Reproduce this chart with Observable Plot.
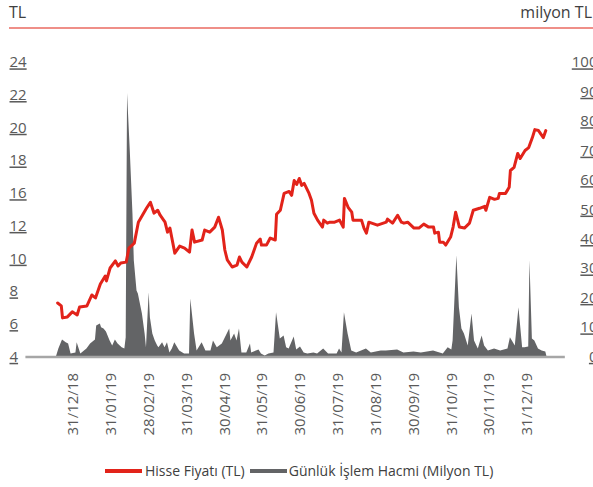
<!DOCTYPE html>
<html>
<head>
<meta charset="utf-8">
<script src="https://cdn.jsdelivr.net/npm/d3@7"></script>
<script src="https://cdn.jsdelivr.net/npm/@observablehq/plot@0.6"></script>
<style>
  html, body { margin: 0; padding: 0; background: #fff; overflow: hidden; }
  #chart { position: relative; width: 593px; height: 487px; font-family: "Open Sans", sans-serif; }
  .unit { position: absolute; top: 4px; font-size: 16px; line-height: 16px; color: #404040; white-space: nowrap; }
  .unit.left { left: 9px; }
  .unit.right { right: 1px; }
  .toprule { position: absolute; top: 27px; left: 9px; right: 0; height: 2px; background: #ef8f88; }
  .plotwrap { position: absolute; left: 0; top: 40px; width: 593px; height: 400px; }
  .plotwrap svg { position: absolute; left: 0; top: 0; }
  .axis-u g[aria-label="y-axis tick label"] text { text-decoration: underline; }
  .legend { position: absolute; left: 105px; top: 464px; display: flex; align-items: center; font-size: 14px; line-height: 14px; color: #404040; white-space: nowrap; }
  .legend .sw { display: inline-block; width: 37px; height: 4px; }
</style>
</head>
<body>
<div id="chart">
  <div class="unit left">TL</div>
  <div class="unit right">milyon TL</div>
  <div class="toprule"></div>
  <div class="plotwrap" id="plots"></div>
  <div class="legend" id="legend"></div>
</div>
<script>
// ---- Data ----
const seriesNames = ["Hisse Fiyatı (TL)", "Günlük İşlem Hacmi (Milyon TL)"];
const seriesColors = ["#e2231a", "#636466"];

const xTickDates = ["2018-12-31","2019-01-31","2019-02-28","2019-03-31","2019-04-30","2019-05-31","2019-06-30",
  "2019-07-31","2019-08-31","2019-09-30","2019-10-31","2019-11-30","2019-12-31"];
const axisStartDate = "2018-11-22";
const axisEndDate = "2020-01-31";
const leftTicks = [4, 6, 8, 10, 12, 16, 18, 20, 22, 24];
const rightTicks = [0, 10, 20, 30, 40, 50, 60, 70, 80, 90, 100];

const priceDates = ["2018-12-18","2018-12-21","2018-12-22","2018-12-26","2018-12-30","2019-01-03","2019-01-05","2019-01-11",
  "2019-01-15","2019-01-18","2019-01-22","2019-01-26","2019-01-27","2019-01-30","2019-02-03","2019-02-05","2019-02-07",
  "2019-02-11","2019-02-13","2019-02-17","2019-02-20","2019-02-23","2019-02-26","2019-03-01","2019-03-04","2019-03-07",
  "2019-03-09","2019-03-13","2019-03-15","2019-03-17","2019-03-21","2019-03-25","2019-03-29","2019-04-02","2019-04-04",
  "2019-04-06","2019-04-12","2019-04-14","2019-04-18","2019-04-22","2019-04-25","2019-04-28","2019-04-30","2019-05-02",
  "2019-05-06","2019-05-10","2019-05-12","2019-05-14","2019-05-18","2019-05-22","2019-05-26","2019-05-29","2019-05-30",
  "2019-06-03","2019-06-06","2019-06-10","2019-06-11","2019-06-14","2019-06-17","2019-06-21","2019-06-23","2019-06-25",
  "2019-06-27","2019-06-29","2019-07-01","2019-07-03","2019-07-07","2019-07-09","2019-07-11","2019-07-14","2019-07-18",
  "2019-07-19","2019-07-22","2019-07-24","2019-07-28","2019-08-01","2019-08-04","2019-08-05","2019-08-08","2019-08-11",
  "2019-08-12","2019-08-19","2019-08-21","2019-08-23","2019-08-25","2019-09-01","2019-09-08","2019-09-09","2019-09-13",
  "2019-09-16","2019-09-17","2019-09-20","2019-09-22","2019-09-25","2019-09-30","2019-10-04","2019-10-08","2019-10-12",
  "2019-10-16","2019-10-17","2019-10-20","2019-10-21","2019-10-24","2019-10-26","2019-10-30","2019-11-01","2019-11-03",
  "2019-11-06","2019-11-10","2019-11-14","2019-11-17","2019-11-22","2019-11-26","2019-11-27","2019-11-30","2019-12-04",
  "2019-12-07","2019-12-08","2019-12-13","2019-12-16","2019-12-17","2019-12-20","2019-12-23","2019-12-25","2019-12-29",
  "2020-01-01","2020-01-04","2020-01-06","2020-01-09","2020-01-13","2020-01-15"];
const priceValues = [7.30,7.12,6.39,6.45,6.76,6.57,7.06,7.12,
  7.79,7.61,8.46,8.95,8.65,9.44,9.87,9.56,9.74,
  9.80,10.66,10.96,12.48,13.33,14.18,14.91,13.58,13.94,
  13.33,12.48,11.63,11.88,10.35,10.78,10.66,10.41,11.76,
  11.02,11.15,11.76,11.63,11.94,13.09,11.76,10.54,9.93,
  9.50,9.62,10.11,9.80,9.50,10.11,10.96,11.21,10.84,
  10.84,11.27,11.15,13.45,13.94,16.00,16.12,15.76,16.79,
  16.55,16.91,16.49,16.61,16.00,15.15,13.58,12.73,11.94,
  12.73,12.36,12.48,12.48,12.73,11.94,15.39,14.30,13.70,
  12.73,12.73,11.88,11.57,12.48,12.12,12.48,12.85,12.36,
  13.09,13.33,12.48,12.36,12.48,11.88,11.88,12.24,11.94,
  11.94,11.57,11.63,11.02,11.02,10.84,11.33,11.94,13.70,
  11.94,11.88,12.36,13.94,14.18,14.42,13.94,15.52,15.27,
  15.39,16.00,16.00,16.37,17.40,17.59,18.44,18.13,18.62,
  18.80,19.41,19.90,19.84,19.41,19.84];

const volumeDates = ["2018-12-17","2018-12-19","2018-12-22","2018-12-25","2018-12-27","2018-12-29","2019-01-02","2019-01-03",
  "2019-01-06","2019-01-09","2019-01-11","2019-01-14","2019-01-18","2019-01-19","2019-01-22","2019-01-23","2019-01-25",
  "2019-01-27","2019-01-30","2019-02-01","2019-02-03","2019-02-05","2019-02-08","2019-02-10","2019-02-11","2019-02-12",
  "2019-02-14","2019-02-16","2019-02-17","2019-02-19","2019-02-20","2019-02-23","2019-02-25","2019-02-26","2019-02-28",
  "2019-03-01","2019-03-03","2019-03-05","2019-03-07","2019-03-08","2019-03-11","2019-03-13","2019-03-15","2019-03-17",
  "2019-03-19","2019-03-21","2019-03-25","2019-03-29","2019-04-02","2019-04-03","2019-04-06","2019-04-08","2019-04-12",
  "2019-04-15","2019-04-19","2019-04-21","2019-04-24","2019-04-28","2019-05-04","2019-05-05","2019-05-08","2019-05-10",
  "2019-05-12","2019-05-14","2019-05-18","2019-05-21","2019-05-22","2019-05-28","2019-05-30","2019-06-02","2019-06-05",
  "2019-06-09","2019-06-11","2019-06-14","2019-06-17","2019-06-19","2019-06-21","2019-06-25","2019-06-27","2019-06-30",
  "2019-07-03","2019-07-06","2019-07-11","2019-07-14","2019-07-19","2019-07-23","2019-07-30","2019-08-01","2019-08-03",
  "2019-08-05","2019-08-08","2019-08-11","2019-08-15","2019-08-23","2019-08-27","2019-09-04","2019-09-08","2019-09-17",
  "2019-09-22","2019-09-30","2019-10-06","2019-10-16","2019-10-24","2019-10-28","2019-10-31","2019-11-01","2019-11-04",
  "2019-11-06","2019-11-08","2019-11-10","2019-11-13","2019-11-16","2019-11-18","2019-11-21","2019-11-24","2019-11-26",
  "2019-11-29","2019-12-04","2019-12-09","2019-12-15","2019-12-17","2019-12-21","2019-12-24","2019-12-27","2019-12-29",
  "2020-01-01","2020-01-02","2020-01-04","2020-01-06","2020-01-09","2020-01-12","2020-01-15","2020-01-16"];
const volumeValues = [0,2.7,5.8,4.8,4.4,1.0,1.4,4.8,
  1.0,2.0,2.7,4.4,5.8,10.5,11.2,9.9,9.5,
  8.5,5.4,3.7,5.8,4.4,3.1,2.7,6.5,89.5,
  70.1,48.6,32.7,22.4,21.4,14.6,7.8,3.1,21.8,
  13.3,7.8,5.4,3.7,3.1,4.8,3.1,4.8,1.4,
  2.7,4.8,2.0,1.0,1.0,19.7,7.8,2.0,4.8,
  2.0,2.0,5.4,3.1,4.4,9.5,5.4,7.8,5.4,
  9.5,1.4,1.4,4.4,1.4,2.4,1.0,0.3,1.0,
  1.4,15.0,6.1,7.1,3.1,2.7,6.8,2.4,3.4,
  1.4,1.0,1.4,1.0,2.7,1.0,1.0,2.7,1.4,
  15.0,7.8,2.0,1.4,2.7,1.4,2.0,2.0,2.4,
  1.4,1.7,1.4,2.0,1.0,3.1,2.4,5.4,34.4,
  16.7,9.5,7.8,3.7,14.6,5.4,2.7,7.1,3.7,
  2.0,2.7,2.0,2.7,6.5,3.7,16.7,3.1,3.1,
  3.4,32.7,6.1,5.4,2.7,2.0,1.7,0];

// ---- Build ----
const parse = d3.utcParse("%Y-%m-%d");
const price = priceDates.map((d, i) => ({date: parse(d), value: priceValues[i]}));
const volume = volumeDates.map((d, i) => ({date: parse(d), value: volumeValues[i]}));
const xDomain = xTickDates.map(parse);

const common = {
  width: 593, height: 400,
  marginTop: 22, marginBottom: 83.5, marginLeft: 73, marginRight: 66,
  style: {fontFamily: "'Open Sans', sans-serif", fontSize: "15px", color: "#595959", background: "transparent"}
};

const volPlot = Plot.plot({
  ...common,
  className: "axis-u",
  x: {type: "utc", domain: xDomain, axis: null},
  y: {domain: [0, 100], label: null},
  marks: [
    Plot.areaY(volume, {x: "date", y: "value", fill: seriesColors[1]}),
    Plot.ruleY([0], {x1: () => parse(axisStartDate), x2: () => parse(axisEndDate), stroke: "#a6a6a6", strokeWidth: 2.5}),
    Plot.axisY({anchor: "right", ticks: rightTicks, tickSize: 0, tickPadding: 0, label: null,
      tickFormat: d => String(d), textAnchor: "end", dx: 70})
  ]
});

const pricePlot = Plot.plot({
  ...common,
  className: "axis-u",
  x: {type: "utc", domain: xDomain, label: null},
  y: {type: "linear", domain: leftTicks, label: null},
  marks: [
    Plot.lineY(price, {x: "date", y: "value", stroke: seriesColors[0], strokeWidth: 3}),
    Plot.axisY({anchor: "left", ticks: leftTicks, tickSize: 0, tickPadding: 0, label: null,
      tickFormat: d => String(d), textAnchor: "start", dx: -64}),
    Plot.axisX({ticks: xDomain, tickFormat: d3.utcFormat("%d/%m/%y"), tickRotate: -90, tickSize: 0, label: null,
      tickPadding: 16, textAnchor: "end", lineAnchor: "middle"})
  ]
});

const wrap = document.getElementById("plots");
wrap.appendChild(volPlot);
wrap.appendChild(pricePlot);

// ---- Legend ----
const legend = document.getElementById("legend");
seriesNames.forEach((name, i) => {
  const sw = document.createElement("span");
  sw.className = "sw";
  sw.style.background = seriesColors[i];
  sw.style.marginLeft = i === 0 ? "0px" : "5px";
  sw.style.marginRight = i === 0 ? "3px" : "2px";
  const t = document.createElement("span");
  t.textContent = name;
  legend.appendChild(sw);
  legend.appendChild(t);
});
</script>
</body>
</html>
